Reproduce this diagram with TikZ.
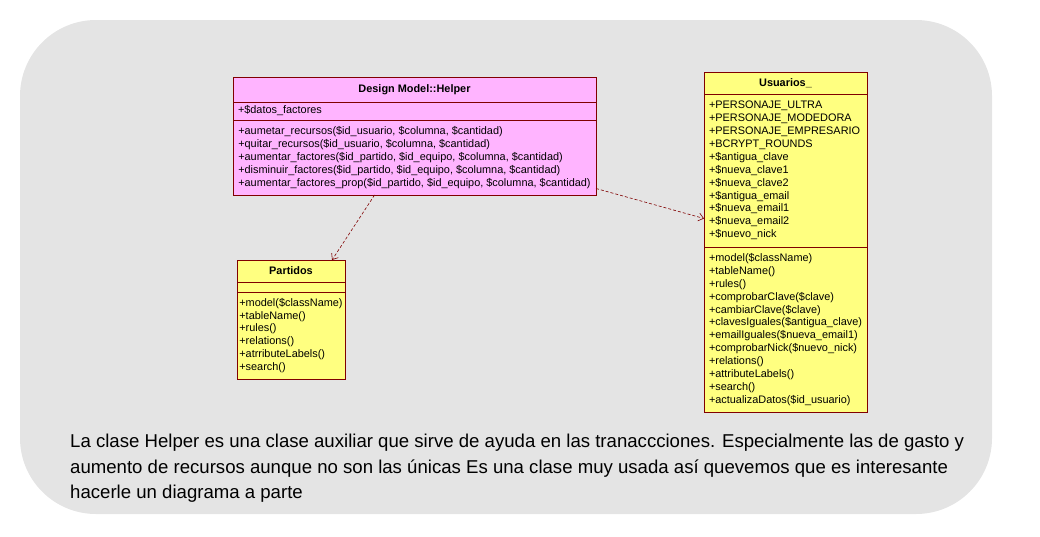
\documentclass[tikz,border=0pt]{standalone}
\usepackage{fontspec}
\setmainfont{Liberation Sans}
\usepackage{xcolor}
\usetikzlibrary{arrows.meta,calc}
\definecolor{bggray}{HTML}{E4E4E4}
\definecolor{umlpink}{HTML}{FFB4FF}
\definecolor{umlyellow}{HTML}{FFFF80}
\definecolor{umlline}{HTML}{800000}

\begin{document}
\begin{tikzpicture}[x=1pt,y=-1pt,
        umlbox/.style={draw=umlline, line width=0.9pt, anchor=north west,
            inner xsep=2pt, inner ysep=0pt, outer sep=0pt,
            font=\fontsize{10.9}{12.9}\selectfont},
        umltitle/.style={umlbox, align=center,
            font=\fontsize{10.9}{12.9}\selectfont\bfseries},
        umlpart/.style={umlbox, align=left},
        dep/.style={draw=umlline, line width=0.6pt, dash pattern=on 3pt off 2pt,
            -{Straight Barb[length=5pt,width=8pt]}}]
        \useasboundingbox (0,0) rectangle (1040,536);
        % Background panel
        \fill[bggray, rounded corners=76pt] (20,20) rectangle (992,514);

        % Helper class
        \node[umltitle, fill=umlpink, minimum width=363pt, minimum height=25pt] (helpertitle) at (233,77) {Design Model::Helper};
        \node[umlpart, fill=umlpink, text width=353pt, inner xsep=5pt, minimum height=18pt] (helperattr) at (helpertitle.south west) {+\$datos\_factores};
        \node[umlpart, fill=umlpink, minimum width=363pt, minimum height=75pt] (helpermethods) at (helperattr.south west) {%
            +aumetar\_recursos(\$id\_usuario, \$columna, \$cantidad)\\
            +quitar\_recursos(\$id\_usuario, \$columna, \$cantidad)\\
            +aumentar\_factores(\$id\_partido, \$id\_equipo, \$columna, \$cantidad)\\
            +disminuir\_factores(\$id\_partido, \$id\_equipo, \$columna, \$cantidad)\\
            +aumentar\_factores\_prop(\$id\_partido, \$id\_equipo, \$columna, \$cantidad)};

        % Partidos class
        \node[umltitle, fill=umlyellow, minimum width=108pt, minimum height=22pt] (partidostitle) at (237,260) {Partidos};
        \node[umlpart, fill=umlyellow, minimum width=108pt, minimum height=10pt] (partidosattr) at (partidostitle.south west) {};
        \node[umlpart, fill=umlyellow, minimum width=108pt, minimum height=87pt] (partidosmethods) at (partidosattr.south west) {%
            +model(\$className)\\
            +tableName()\\
            +rules()\\
            +relations()\\
            +atrributeLabels()\\
            +search()};

        % Usuarios class
        \node[umltitle, fill=umlyellow, minimum width=163pt, minimum height=22pt] (usuariostitle) at (704,72) {Usuarios\_};
        \node[umlpart, fill=umlyellow, text width=153pt, inner xsep=5pt, minimum height=153pt] (usuariosattr) at (usuariostitle.south west) {%
            +PERSONAJE\_ULTRA\\
            +PERSONAJE\_MODEDORA\\
            +PERSONAJE\_EMPRESARIO\\
            +BCRYPT\_ROUNDS\\
            +\$antigua\_clave\\
            +\$nueva\_clave1\\
            +\$nueva\_clave2\\
            +\$antigua\_email\\
            +\$nueva\_email1\\
            +\$nueva\_email2\\
            +\$nuevo\_nick};
        \node[umlpart, fill=umlyellow, minimum width=163pt, minimum height=165pt] (usuariosmethods) at (usuariosattr.south west) {%
            +model(\$className)\\
            +tableName()\\
            +rules()\\
            +comprobarClave(\$clave)\\
            +cambiarClave(\$clave)\\
            +clavesIguales(\$antigua\_clave)\\
            +emailIguales(\$nueva\_email1)\\
            +comprobarNick(\$nuevo\_nick)\\
            +relations()\\
            +attributeLabels()\\
            +search()\\
            +actualizaDatos(\$id\_usuario)};

        % Dependencies
        \draw[dep] ($(helpermethods.south west)!0.39!(helpermethods.south east)$) -- ($(partidostitle.north west)!0.88!(partidostitle.north east)$);
        \draw[dep] ($(helpermethods.east)+(0,31)$) -- ($(usuariosattr.west)+(0,48)$);

        % Note
        \node[anchor=north west, inner sep=0pt, align=left, font=\fontsize{18.6}{25.5}\selectfont] (note) at (70,434) {%
            La clase Helper es una clase auxiliar que sirve de ayuda en las tranaccciones. Especialmente las de gasto y\\
            aumento de recursos aunque no son las únicas Es una clase muy usada así quevemos que es interesante\\
            hacerle un diagrama a parte};
    \end{tikzpicture}
\end{document}
